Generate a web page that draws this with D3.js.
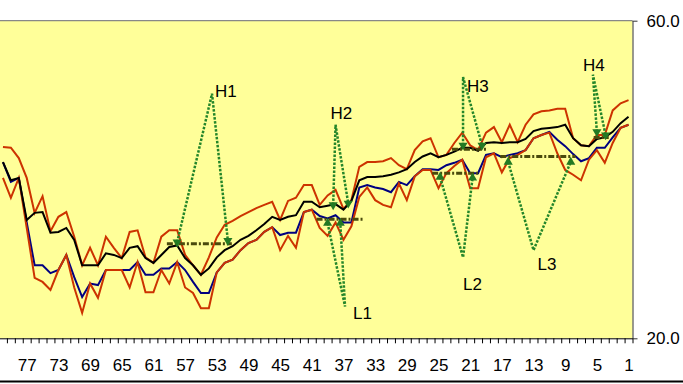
<!DOCTYPE html>
<html>
<head>
<meta charset="utf-8">
<script src="https://cdn.jsdelivr.net/npm/d3@7"></script>
<style>
  body { margin: 0; background: #fff; }
  svg { display: block; font-family: "Liberation Sans", Arial, sans-serif; }
</style>
</head>
<body>
<div id="chart"></div>
<script>
// categories run from 80 (left) down to 1 (right)
var categories = d3.range(80, 0, -1);
var xTickLabels = ["77","73","69","65","61","57","53","49","45","41",
                   "37","33","29","25","21","17","13","9","5","1"];
var yTickValues = [20, 60];

// upper band (red)
var upperBand = [44.1,44.0,42.7,40.2,35.8,37.9,33.5,35.3,35.9,32.8,
  29.2,31.4,29.2,32.8,31.4,30.1,33.4,33.6,30.2,29.5,
  32.8,33.6,33.6,30.5,29.2,28.0,30.2,32.7,34.3,34.8,
  35.4,35.9,36.4,36.8,37.2,34.9,37.3,37.7,39.3,39.3,
  36.8,38.0,38.7,36.3,37.4,41.6,42.2,42.2,42.3,42.7,
  41.8,41.3,43.7,44.8,45.2,42.8,43.1,44.6,45.9,44.3,
  43.7,45.9,46.6,44.7,46.9,44.7,46.9,48.2,48.6,48.7,
  48.9,48.9,45.2,44.3,44.2,45.6,45.6,48.7,49.6,50.0];

// average (black)
var avgLine = [42.2,39.9,40.2,34.9,35.8,35.9,33.3,33.4,33.9,32.4,
  29.2,29.2,29.2,30.7,30.5,30.1,31.4,31.6,30.1,29.5,
  30.5,31.5,31.7,30.1,29.2,28.0,28.8,30.2,31.1,31.6,
  32.4,32.9,33.6,34.4,35.3,34.9,35.3,35.5,37.2,37.2,
  36.5,36.7,36.9,36.2,37.3,39.9,40.3,40.3,40.4,40.6,
  40.9,41.3,42.2,42.9,43.3,42.8,43.1,43.5,44.0,44.0,
  43.6,44.6,44.7,44.6,44.7,44.7,45.1,46.1,46.4,46.5,
  46.6,46.9,45.2,44.3,44.2,45.1,45.3,46.0,47.1,47.9];

// main line (blue)
var mainLine = [42.2,39.7,40.2,34.6,29.2,29.2,28.2,28.6,30.5,27.7,
  25.2,26.9,26.7,28.6,28.6,28.6,28.6,29.6,28.0,28.0,
  28.8,28.8,29.6,28.6,27.1,25.7,25.7,28.3,29.5,29.9,
  31.1,32.0,32.4,33.4,34.0,33.0,33.3,33.3,35.9,36.2,
  35.4,35.1,35.5,34.6,34.6,39.0,39.3,39.0,38.8,38.4,
  39.7,39.3,40.4,41.3,41.3,41.2,41.8,42.1,42.5,40.8,
  40.8,43.1,43.3,42.8,43.1,43.3,43.7,45.2,45.6,46.0,
  45.0,44.2,43.2,42.3,42.7,44.0,44.0,45.3,46.5,46.9];

// lower band (red)
var lowerBand = [40.2,37.7,40.2,33.9,27.6,27.1,26.1,28.6,30.5,26.4,
  23.2,26.9,25.1,28.6,28.6,28.6,26.4,29.6,25.8,25.8,
  28.6,26.9,29.6,26.4,25.7,23.8,23.8,28.3,29.5,29.9,
  31.1,32.0,32.4,33.4,34.0,31.1,32.9,31.4,35.9,36.2,
  33.9,32.9,34.6,32.4,34.1,37.8,39.0,37.4,36.8,36.5,
  39.5,37.4,40.4,41.2,41.2,38.9,40.8,41.7,42.5,38.9,
  38.9,42.8,43.3,40.9,42.7,43.1,43.7,45.2,45.6,45.9,
  43.3,41.2,40.6,39.9,42.5,43.7,42.1,44.6,46.5,46.9];

// highs / lows: three points each (start, turning point, end)
var patternNames = ["H1","H2","L1","H3","L2","L3","H4"];
var patternCats = [[58.0,53.6,51.6],[38.3,38.0,36.4],[39.0,36.8,37.4],
  [21.9,21.9,19.5],[24.8,21.9,20.7],[16.2,13.0,8.3],[5.0,5.5,3.9]];
var patternValues = [[32.1,50.8,32.3],[36.8,46.9,37.0],[34.5,24.0,34.5],
  [44.3,52.9,44.3],[40.3,30.2,40.2],[42.2,31.1,42.2],[46.0,53.2,45.6]];

// horizontal levels
var levelFrom = [59.3, 40.4, 25.8, 23.3, 17.2, 5.4];
var levelTo = [51.1, 34.4, 19.8, 18.9, 7.7, 3.5];
var levelValues = [31.9, 35.0, 40.8, 43.8, 42.9, 45.3];

// label offsets from the turning point, pixels
var labelDx = [3, -5, 8, 4, 0, 4, -10];
var labelDy = [3, -6, 12, 15, 33, 20, -4];

var svgWidth = 683, svgHeight = 384;
var plot = { left: -1, right: 632.5, top: 20.7, bottom: 338.3 };

var svg = d3.select("#chart").append("svg")
  .attr("width", svgWidth)
  .attr("height", svgHeight);

svg.append("rect")
  .attr("width", svgWidth).attr("height", svgHeight)
  .attr("fill", "#fff");

var x = d3.scaleLinear().domain([80.5, 0.5]).range([plot.left, plot.right]);
var y = d3.scaleLinear().domain([20, 60]).range([plot.bottom, plot.top]);

// plot area
svg.append("rect")
  .attr("x", 0).attr("y", plot.top)
  .attr("width", plot.right).attr("height", plot.bottom - plot.top)
  .attr("fill", "#ffff99");

svg.append("line")
  .attr("x1", 0).attr("x2", plot.right)
  .attr("y1", plot.top).attr("y2", plot.top)
  .attr("stroke", "#888").attr("stroke-width", 1.2);

// bottom axis: ticks between categories
svg.append("g")
  .attr("transform", `translate(0, ${plot.bottom})`)
  .call(d3.axisBottom(x)
    .tickValues(d3.range(80.5, 0, -1))
    .tickSize(5).tickSizeOuter(0)
    .tickFormat(""))
  .call(g => g.selectAll("line,path").attr("stroke", "#000"));

svg.append("g")
  .attr("transform", `translate(0, ${plot.bottom})`)
  .call(d3.axisBottom(x)
    .tickValues(xTickLabels.map(Number))
    .tickSize(0).tickPadding(21)
    .tickFormat(d => xTickLabels[xTickLabels.indexOf(String(d))]))
  .call(g => g.select(".domain").remove())
  .call(g => g.selectAll("text")
    .attr("font-size", "17px")
    .attr("font-family", "'Liberation Sans', Arial, sans-serif")
    .attr("fill", "#000"));

// right axis
svg.append("g")
  .attr("transform", `translate(${plot.right}, 0)`)
  .call(d3.axisRight(y)
    .tickValues(yTickValues)
    .tickSize(5).tickSizeOuter(0).tickPadding(9)
    .tickFormat(d3.format(".1f")))
  .call(g => g.selectAll("line,path").attr("stroke", "#333"))
  .call(g => g.selectAll("text")
    .attr("font-size", "17px")
    .attr("font-family", "'Liberation Sans', Arial, sans-serif")
    .attr("fill", "#000"));

// bottom frame line
svg.append("line")
  .attr("x1", 0).attr("x2", svgWidth)
  .attr("y1", 381.5).attr("y2", 381.5)
  .attr("stroke", "#000").attr("stroke-width", 2);

var line = d3.line()
  .x((d, i) => x(categories[i]))
  .y(d => y(d));

svg.append("path").datum(mainLine)
  .attr("d", line).attr("fill", "none")
  .attr("stroke", "#000080").attr("stroke-width", 2);

svg.append("path").datum(upperBand)
  .attr("d", line).attr("fill", "none")
  .attr("stroke", "#cc3300").attr("stroke-width", 2);

svg.append("path").datum(lowerBand)
  .attr("d", line).attr("fill", "none")
  .attr("stroke", "#cc3300").attr("stroke-width", 2);

svg.append("path").datum(avgLine)
  .attr("d", line).attr("fill", "none")
  .attr("stroke", "#000").attr("stroke-width", 2);

// horizontal levels
svg.selectAll("line.level")
  .data(levelValues)
  .enter().append("line")
  .classed("level", true)
  .attr("x1", (d, i) => x(levelFrom[i]))
  .attr("x2", (d, i) => x(levelTo[i]))
  .attr("y1", d => y(d)).attr("y2", d => y(d))
  .attr("stroke", "#4a4a0c").attr("stroke-width", 3)
  .attr("stroke-dasharray", "6,2,2,2");

// zigzags
var zig = d3.line()
  .x(d => x(d[0]))
  .y(d => y(d[1]));

patternNames.forEach(function(name, k) {
  var pts = patternCats[k].map((c, j) => [c, patternValues[k][j]]);
  svg.append("path").datum(pts)
    .attr("d", zig).attr("fill", "none")
    .attr("stroke", "#24862a").attr("stroke-width", 2.5)
    .attr("stroke-dasharray", "2.5,1.5");

  var isHigh = name[0] == "H";
  [pts[0], pts[2]].forEach(function(p) {
    svg.append("path")
      .attr("d", d3.symbol(d3.symbolTriangle, 36)())
      .attr("transform", `translate(${x(p[0])}, ${y(p[1])}) rotate(${isHigh ? 180 : 0})`)
      .attr("fill", "#237a23");
  });

  svg.append("text")
    .attr("x", x(pts[1][0]) + labelDx[k])
    .attr("y", y(pts[1][1]) + labelDy[k])
    .attr("font-size", "17px")
    .attr("fill", "#000")
    .text(name);
});
</script>
</body>
</html>
